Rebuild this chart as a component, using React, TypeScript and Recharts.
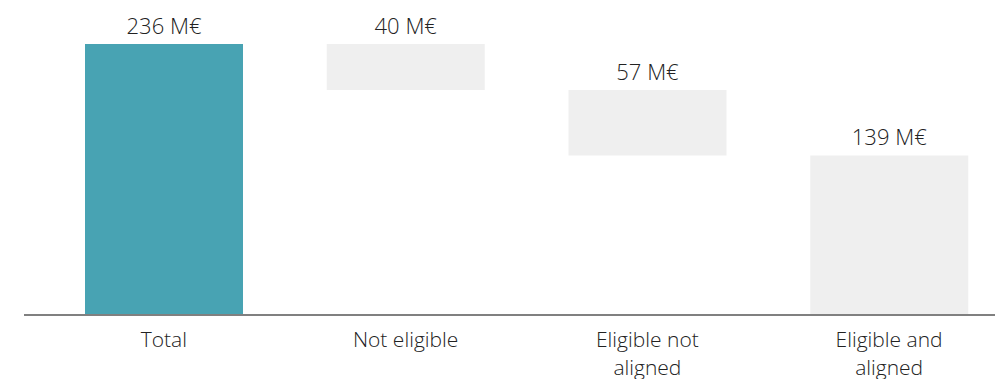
import React from "react";
import { BarChart, Bar, XAxis, YAxis, Cell, LabelList } from "recharts";

// waterfall steps, values in M€
const categories = ["Total", "Not eligible", "Eligible not aligned", "Eligible and aligned"];
const amounts = [236, 40, 57, 139];
// invisible part under each floating step
const bases = [0, 196, 139, 0];

const barColors = ["#48A3B3", "#EFEFEF", "#EFEFEF", "#EFEFEF"];
const FONT = "'Open Sans', sans-serif";

const data = categories.map((name, i) => ({
  name,
  base: bases[i],
  value: amounts[i],
}));

// greedy word wrap by characters
const wrap = (s: string, max = 13) => {
  const lines: string[] = [];
  let cur = "";
  s.split(" ").forEach((w) => {
    const next = cur ? `${cur} ${w}` : w;
    if (next.length > max && cur) {
      lines.push(cur);
      cur = w;
    } else {
      cur = next;
    }
  });
  if (cur) lines.push(cur);
  return lines;
};

const CategoryTick = (props: any) => {
  const { x, y, payload } = props;
  const lines = wrap(String(payload.value));
  return (
    <text
      x={x}
      y={y + 32}
      textAnchor="middle"
      fontSize={21}
      fontFamily={FONT}
      fontWeight={300}
      fill="#222"
    >
      {lines.map((l, i) => (
        <tspan key={i} x={x} dy={i === 0 ? 0 : 28}>
          {l}
        </tspan>
      ))}
    </text>
  );
};

const App: React.FC = () => {
  return (
    <div
      style={{
        position: "absolute",
        left: 0,
        top: 0,
        width: 995,
        height: 379,
        overflow: "hidden",
        background: "#fff",
      }}
    >
      <BarChart
        width={1010}
        height={379}
        data={data}
        margin={{ top: 44, right: 0, bottom: 0, left: 24 }}
      >
        <XAxis
          dataKey="name"
          interval={0}
          height={64}
          tickLine={false}
          tickSize={0}
          tickMargin={0}
          padding={{ left: 19, right: 0 }}
          axisLine={{ stroke: "#808080", strokeWidth: 2 }}
          tick={<CategoryTick />}
        />
        <YAxis hide domain={[0, 236]} />
        <Bar dataKey="base" stackId="w" fill="transparent" barSize={158} isAnimationActive={false} />
        <Bar dataKey="value" stackId="w" barSize={158} isAnimationActive={false}>
          {data.map((d, i) => (
            <Cell key={d.name} fill={barColors[i]} />
          ))}
          <LabelList
            dataKey="value"
            position="top"
            offset={10}
            formatter={(v: any) => `${v} M€`}
            fontSize={22}
            fontFamily={FONT}
            fontWeight={300}
            fill="#222"
          />
        </Bar>
      </BarChart>
    </div>
  );
};

export default App;
